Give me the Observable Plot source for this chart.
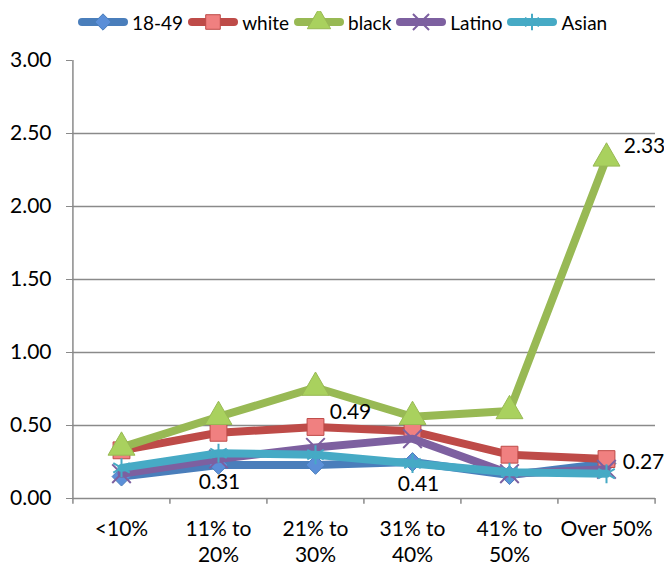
<!DOCTYPE html>
<html><head><meta charset="utf-8">
<script src="https://cdn.jsdelivr.net/npm/d3@7"></script>
<script src="https://cdn.jsdelivr.net/npm/@observablehq/plot@0.6"></script>
<style>
body{margin:0;background:#fff;font-family:Lato,"Open Sans",sans-serif;color:#000;}
#legend{height:44px;display:flex;align-items:center;padding-left:78px;box-sizing:border-box;font-size:19px;}
#legend .item{display:flex;align-items:center;margin-right:5px;}
#legend svg{display:block;margin-right:4px;}
</style></head><body>
<div id="legend"></div><div id="chart"></div>
<script>
const categories = ["<10%", "11% to 20%", "21% to 30%", "31% to 40%", "41% to 50%", "Over 50%"];
const categoryLabels = ["<10%", "11% to\n20%", "21% to\n30%", "31% to\n40%", "41% to\n50%", "Over 50%"];
const seriesNames = ["18-49", "white", "black", "Latino", "Asian"];
const values1849   = [0.15, 0.23, 0.23, 0.25, 0.16, 0.24];
const valuesWhite  = [0.33, 0.45, 0.49, 0.46, 0.30, 0.27];
const valuesBlack  = [0.35, 0.56, 0.76, 0.56, 0.60, 2.33];
const valuesLatino = [0.17, 0.27, 0.35, 0.41, 0.17, 0.20];
const valuesAsian  = [0.21, 0.31, 0.30, 0.24, 0.18, 0.17];
const yTicks = [0, 0.5, 1, 1.5, 2, 2.5, 3];
const gridValues = [0.5, 1, 1.5, 2, 2.5];
const labelTexts = ["0.31", "0.49", "0.41", "0.27", "2.33"];

const seriesValues = [values1849, valuesWhite, valuesBlack, valuesLatino, valuesAsian];
const lineColors = ["#4A7EBB", "#BE4B48", "#98B954", "#7D60A0", "#46AAC5"];
const markerFills = ["#5B8FD8", "#F08080", "#A9D15E", "none", "none"];
const markerStrokes = ["#4A7EBB", "#BE4B48", "#98B954", "#7D60A0", "#46AAC5"];
const symbols = ["diamond2", "square", "triangle", "times", "asterisk"];
const markerR = [8.5, 9.5, 10, 8.5, 9];

const rows = [];
seriesNames.forEach((s, i) => categories.forEach((c, j) => rows.push({series: s, cat: c, value: seriesValues[i][j]})));
const valueOf = (s, c) => rows.find(r => r.series === s && r.cat === c).value;

const W = 664, H = 529, mL = 72, mR = 9, mT = 16, mB = 75;
const step = (W - mL - mR) / categories.length;
const font = "Lato, 'Open Sans', sans-serif";
const FS = 21;

const marks = [
  Plot.ruleY(gridValues, {stroke: "#8a8a8a", strokeWidth: 1.5}),
  Plot.ruleY([0], {stroke: "#8a8a8a", strokeWidth: 1.5}),
  Plot.ruleX([categories[0]], {x: d => d, y1: 0, y2: 3, dx: -step / 2, stroke: "#8a8a8a", strokeWidth: 1.5}),
  Plot.ruleX(categories, {x: d => d, y1: 0, y2: -0.04, dx: -step / 2, stroke: "#8a8a8a", strokeWidth: 1.5}),
  Plot.ruleX([categories[categories.length - 1]], {x: d => d, y1: 0, y2: -0.04, dx: step / 2, stroke: "#8a8a8a", strokeWidth: 1.5}),
  Plot.axisY({ticks: yTicks, tickFormat: d3.format(".2f"), tickSize: 6, tickPadding: 15, fontSize: FS, stroke: "#8a8a8a", label: null}),
  Plot.axisX({tickSize: 0, tickPadding: 19, fontSize: FS, lineHeight: 1.25, tickFormat: (d) => categoryLabels[categories.indexOf(d)], label: null})
];
seriesNames.forEach((s, i) => {
  const data = rows.filter(r => r.series === s);
  marks.push(Plot.line(data, {x: "cat", y: "value", stroke: lineColors[i], strokeWidth: 8, strokeLinejoin: "round", strokeLinecap: "round"}));
  marks.push(Plot.dot(data, {x: "cat", y: "value", symbol: symbols[i], r: markerR[i], fill: markerFills[i], stroke: markerStrokes[i], strokeWidth: markerFills[i] === "none" ? 2 : 1}));
});
function label(text, s, c, dx, dy) {
  return Plot.text([{cat: c, value: valueOf(s, c), text}], {x: "cat", y: "value", text: "text", dx, dy, fontSize: FS, fill: "#000"});
}
marks.push(label(labelTexts[0], "Asian", categories[1], 1, 29));
marks.push(label(labelTexts[1], "white", categories[2], 35, -15));
marks.push(label(labelTexts[2], "Latino", categories[3], 6, 46));
marks.push(label(labelTexts[3], "white", categories[5], 37, 3));
marks.push(label(labelTexts[4], "black", categories[5], 38, -12));

const chart = Plot.plot({
  width: W, height: H, marginLeft: mL, marginRight: mR, marginTop: mT, marginBottom: mB,
  style: {fontFamily: font, fontSize: FS + "px", color: "#000", background: "#fff"},
  x: {type: "point", domain: categories, padding: 0.5},
  y: {domain: [0, 3]},
  marks
});
document.getElementById("chart").appendChild(chart);

// legend
const legend = d3.select("#legend");
const symMap = {diamond2: d3.symbolDiamond2, square: d3.symbolSquare, triangle: d3.symbolTriangle, times: d3.symbolTimes, asterisk: d3.symbolAsterisk};
seriesNames.forEach((s, i) => {
  const item = legend.append("div").attr("class", "item");
  const svg = item.append("svg").attr("width", 50).attr("height", 22);
  svg.append("line").attr("x1", 4).attr("x2", 46).attr("y1", 11).attr("y2", 11)
    .attr("stroke", lineColors[i]).attr("stroke-width", 8).attr("stroke-linecap", "round");
  svg.append("path").attr("transform", "translate(25,11)")
    .attr("d", d3.symbol(symMap[symbols[i]], Math.PI * markerR[i] * markerR[i] * 0.75)())
    .attr("fill", markerFills[i]).attr("stroke", markerStrokes[i]).attr("stroke-width", markerFills[i] === "none" ? 2 : 1);
  item.append("span").text(s);
});
</script>
</body></html>
